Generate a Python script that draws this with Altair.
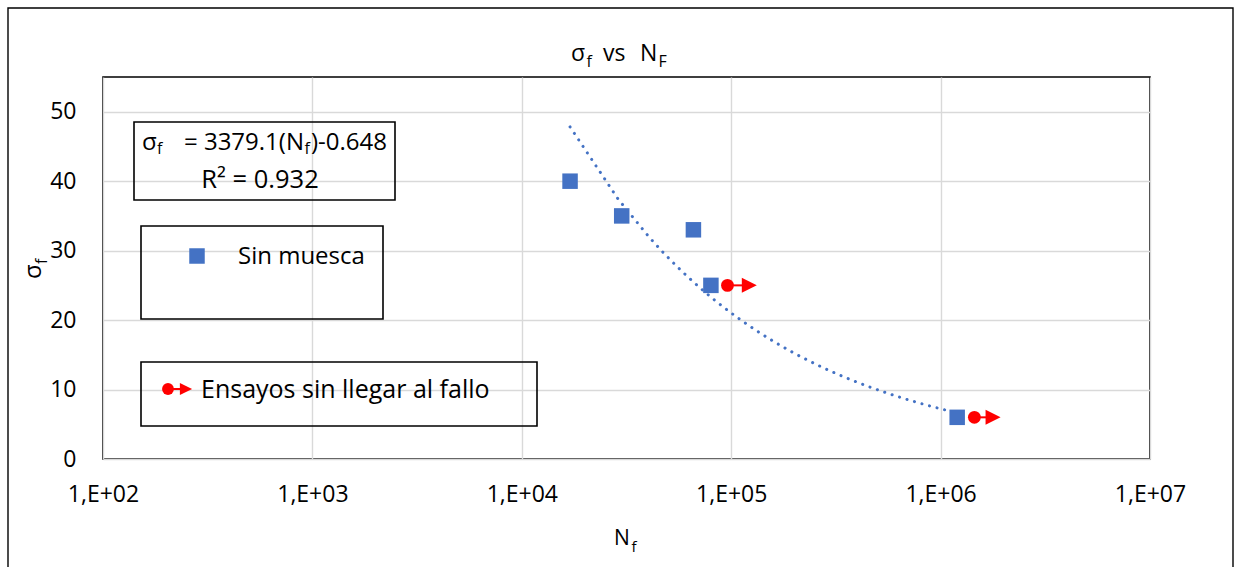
import altair as alt
import pandas as pd

# ---- data ----
N_sin_muesca = [1.7e4, 3.0e4, 6.6e4, 8.0e4, 1.2e6]
s_sin_muesca = [40, 35, 33, 25, 6]

N_runout = [9.6e4, 1.45e6]          # red circle (test stopped, no failure)
N_runout_arrow = [1.22e5, 1.78e6]   # arrow head
s_runout = [25, 6]

x_ticks = [1e2, 1e3, 1e4, 1e5, 1e6, 1e7]
y_ticks = [0, 10, 20, 30, 40, 50]

FONT = "Open Sans"
BLUE = "#4472C4"
RED = "#FF0000"
W, H = 1047, 382
OX, OY = 103, 77  # plot origin in page px

blue_df = pd.DataFrame({"N": N_sin_muesca, "s": s_sin_muesca})
red_df = pd.DataFrame({"N": N_runout, "N2": N_runout_arrow, "s": s_runout})
one = alt.Data(values=[{}])

xscale = alt.Scale(type="log", domain=[1e2, 1e7], nice=False)
yscale = alt.Scale(domain=[0, 55], nice=False, zero=False)

xaxis = alt.Axis(values=x_ticks, labelExpr="'1,E+0' + round(log(datum.value)/LN10)",
                 grid=True, gridColor="#D9D9D9", gridWidth=1.4, domain=False, ticks=False,
                 tickSize=0, labelFontSize=23, labelFont=FONT, labelColor="#000",
                 labelPadding=24, labelFlush=False, labelOverlap=False, title=None)
yaxis = alt.Axis(values=y_ticks, grid=True, gridColor="#D9D9D9", gridWidth=1.4,
                 domain=False, ticks=False, tickSize=0, labelFontSize=23, labelFont=FONT,
                 labelColor="#000", labelPadding=27, labelOverlap=False, title=None)

base = alt.Chart(blue_df).encode(
    x=alt.X("N:Q", scale=xscale, axis=xaxis),
    y=alt.Y("s:Q", scale=yscale, axis=yaxis),
)

trend = alt.Chart(blue_df).transform_regression("N", "s", method="pow").mark_line(
    color=BLUE, strokeWidth=3, strokeDash=[0.1, 7.7], strokeCap="round"
).encode(x=alt.X("N:Q", scale=xscale, axis=xaxis), y=alt.Y("s:Q", scale=yscale, axis=yaxis))

squares = base.mark_point(shape="square", filled=True, size=240, color=BLUE, opacity=1)

red_line = alt.Chart(red_df).mark_rule(color=RED, strokeWidth=2).encode(
    x=alt.X("N:Q", scale=xscale), x2="N2:Q", y=alt.Y("s:Q", scale=yscale))
red_circ = alt.Chart(red_df).mark_point(shape="circle", filled=True, size=165, color=RED,
                                        opacity=1).encode(
    x=alt.X("N:Q", scale=xscale), y=alt.Y("s:Q", scale=yscale))
red_tri = alt.Chart(red_df).mark_point(shape="M-1,-1L1,0L-1,1Z", filled=True, size=225,
                                       color=RED, opacity=1).encode(
    x=alt.X("N2:Q", scale=xscale), y=alt.Y("s:Q", scale=yscale))


def txt(s, x, y, size, align="left", angle=0, baseline="alphabetic"):
    return alt.Chart(one).mark_text(
        text=s, align=align, baseline=baseline, fontSize=size, font=FONT,
        angle=angle, color="#000"
    ).encode(x=alt.value(x - OX), y=alt.value(y - OY))


def box(x1, y1, x2, y2, sw=1.6):
    return alt.Chart(one).mark_rect(fillOpacity=0, stroke="#000", strokeWidth=sw).encode(
        x=alt.value(x1 - OX), x2=alt.value(x2 - OX), y=alt.value(y1 - OY), y2=alt.value(y2 - OY))


B1, B2 = 150, 188
annotations = [
    # outer chart border
    box(8, 8, 1233, 600, sw=1.4),
    # title  σf vs NF
    txt("σ", 571, 60.7, 23),
    txt("f", 586.5, 67, 16),
    txt("vs", 603, 60.7, 23),
    txt("N", 640, 60.7, 23),
    txt("F", 658.5, 67, 16),
    # axis titles
    txt("N", 614, 545, 21),
    txt("f", 631.5, 551.5, 15),
    txt("σ", 41, 279, 24, angle=270),
    txt("f", 46.5, 264, 16, angle=270),
    # equation box
    box(134, 122, 395, 200),
    txt("σ", 142, B1, 24),
    txt("f", 157, B1 + 4, 16),
    txt("= 3379.1(N", 304, B1, 24, align="right"),
    txt("f", 304.5, B1 + 4, 16),
    txt(")-0.648", 387, B1, 24, align="right"),
    txt("R² = 0.932", 260, B2, 25.5, align="center"),
    # legend 1
    box(141, 226, 383, 319),
    alt.Chart(one).mark_point(shape="square", filled=True, size=240, color=BLUE, opacity=1)
       .encode(x=alt.value(197 - OX), y=alt.value(256 - OY)),
    txt("Sin muesca", 238, 264, 24),
    # legend 2
    box(141, 362, 537, 426),
    alt.Chart(one).mark_rule(color=RED, strokeWidth=2).encode(
        x=alt.value(168 - OX), x2=alt.value(185 - OX), y=alt.value(389 - OY)),
    alt.Chart(one).mark_point(shape="circle", filled=True, size=140, color=RED, opacity=1)
       .encode(x=alt.value(168 - OX), y=alt.value(389 - OY)),
    alt.Chart(one).mark_point(shape="M-1,-1L1,0L-1,1Z", filled=True, size=150, color=RED,
                              opacity=1).encode(x=alt.value(186 - OX), y=alt.value(389 - OY)),
    txt("Ensayos sin llegar al fallo", 201, 398, 25),
]

chart = alt.layer(trend, squares, red_line, red_circ, red_tri, *annotations).properties(
    width=W, height=H,
    autosize=alt.AutoSizeParams(type="none"),
    padding={"left": OX, "top": OY, "right": 1236 - OX - W, "bottom": 567 - OY - H},
    background="white",
).configure_view(stroke="#000", strokeWidth=1.6).configure_text(font=FONT)

chart.save("out.html", embed_options={"renderer": "svg", "actions": False})
